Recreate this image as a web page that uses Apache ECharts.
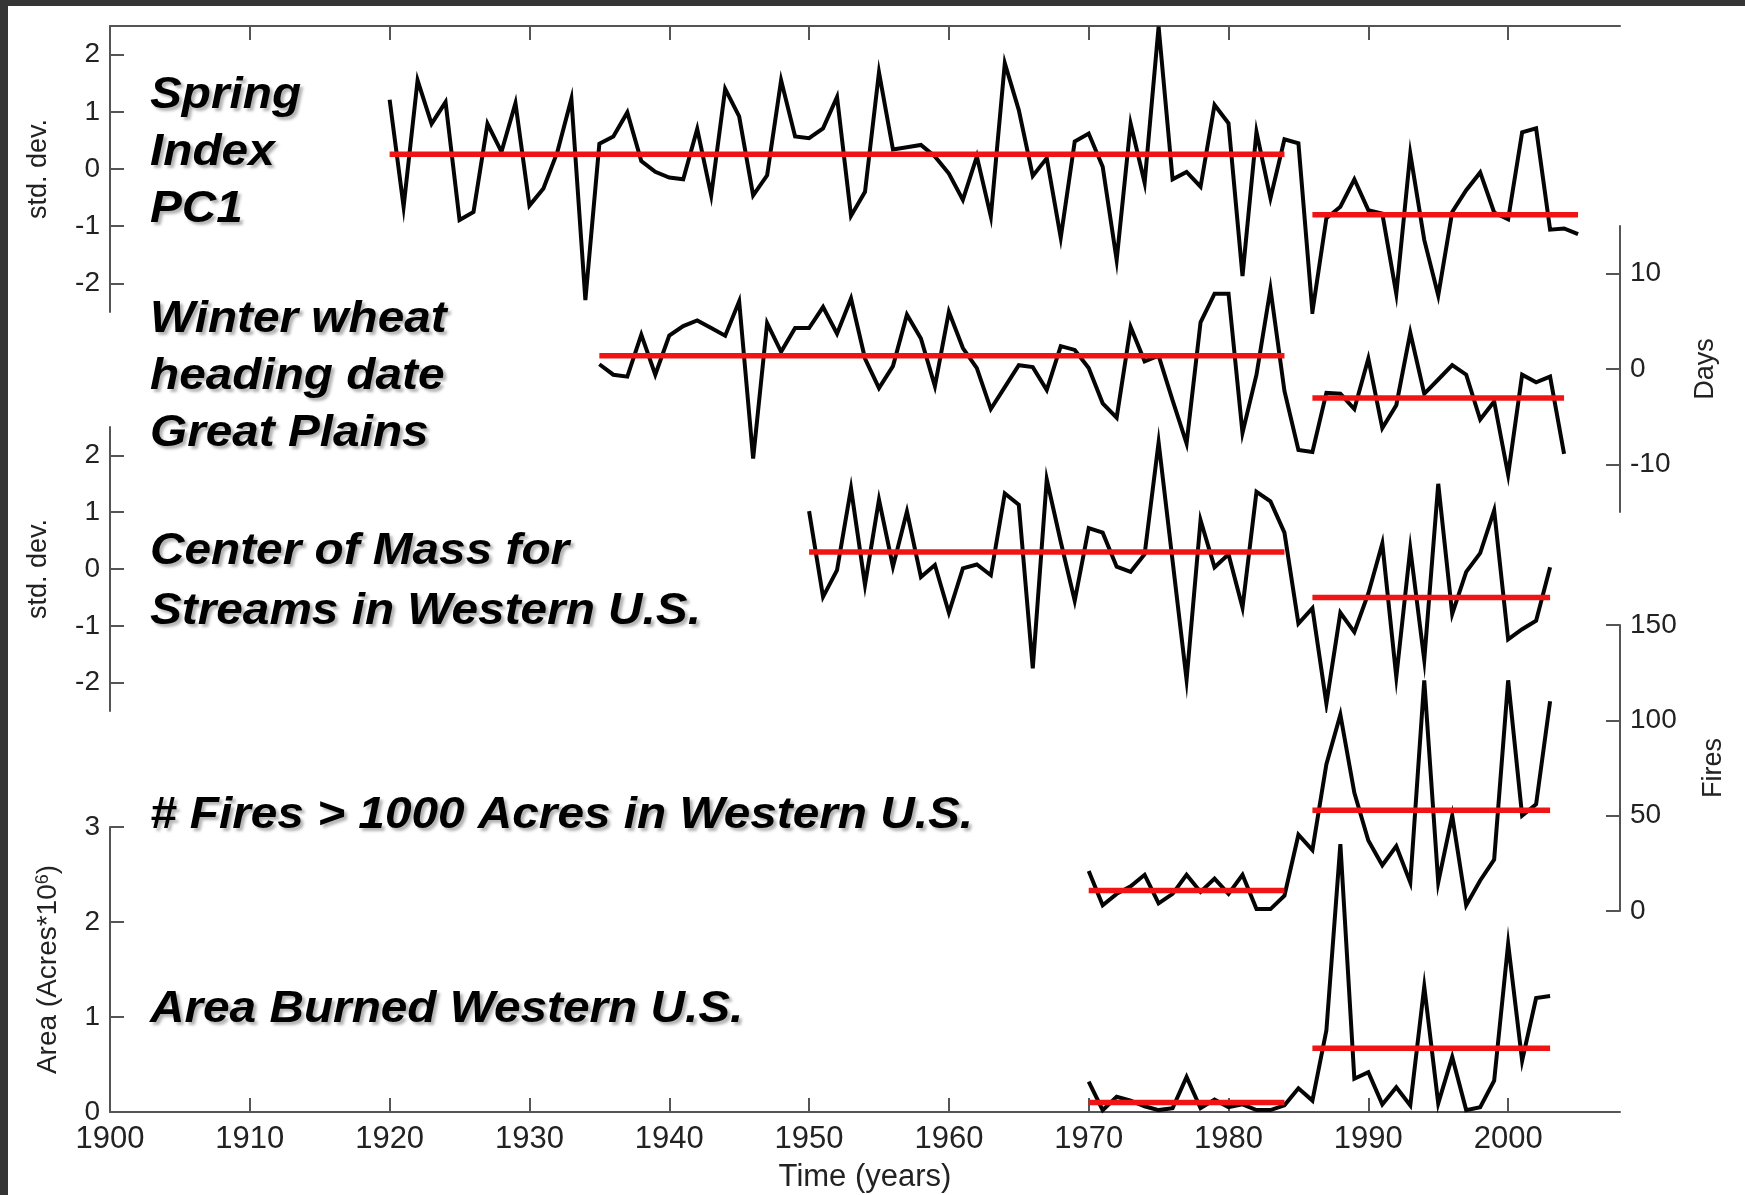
<!DOCTYPE html>
<html>
<head>
<meta charset="utf-8">
<title>Western U.S. spring timing, streamflow and fire records</title>
<script src="https://cdn.jsdelivr.net/npm/echarts@6/dist/echarts.min.js"></script>
<style>
  html, body { margin: 0; padding: 0; background: #ffffff; }
  #chart { width: 1745px; height: 1195px; }
</style>
</head>
<body>
<div id="chart"></div>
<script>
// ---- Data -------------------------------------------------------------

// Spring Index PC1 (std. dev.), yearly from 1920
const springStart = 1920;
const springValues = [
  1.21, -0.66, 1.55, 0.79, 1.17, -0.89, -0.75, 0.79, 0.30, 1.15,
  -0.64, -0.34, 0.30, 1.23, -2.29, 0.44, 0.57, 0.99, 0.14, -0.05,
  -0.15, -0.18, 0.70, -0.46, 1.40, 0.92, -0.46, -0.11, 1.55, 0.57,
  0.54, 0.71, 1.26, -0.82, -0.40, 1.69, 0.34, 0.38, 0.42, 0.22,
  -0.08, -0.54, 0.22, -0.83, 1.85, 1.03, -0.12, 0.19, -1.20, 0.48,
  0.62, 0.04, -1.59, 0.79, -0.24, 2.49, -0.18, -0.05, -0.31, 1.12,
  0.80, -1.87, 0.65, -0.51, 0.52, 0.45, -2.50, -0.86, -0.66, -0.18,
  -0.72, -0.78, -2.18, 0.27, -1.24, -2.21, -0.75, -0.37, -0.06, -0.76,
  -0.88, 0.64, 0.71, -1.06, -1.04, -1.14
];
// period means: [first year, last year, mean]
const springMeans = [[1920, 1984, 0.26], [1986, 2005, -0.80]];

// Winter wheat heading date, Great Plains (days), yearly from 1935
const wheatStart = 1935;
const wheatValues = [
  0.5, -0.6, -0.8, 3.6, -0.6, 3.5, 4.5, 5.1, 4.3, 3.5,
  7.1, -9.4, 4.8, 1.8, 4.3, 4.3, 6.5, 3.7, 7.4, 1.1,
  -2.0, 0.3, 5.7, 3.2, -1.8, 6.0, 2.2, 0.1, -4.2, -1.9,
  0.4, 0.2, -2.2, 2.4, 2.0, 0.1, -3.6, -5.1, 4.4, 0.8,
  1.4, -3.3, -7.8, 4.9, 7.9, 7.9, -6.7, -0.6, 8.4, -2.3,
  -8.5, -8.7, -2.5, -2.6, -4.2, 1.1, -6.2, -3.8, 3.8, -2.6,
  -1.1, 0.4, -0.6, -5.3, -3.4, -11.1, -0.6, -1.4, -0.8, -8.9
];
const wheatMeans = [[1935, 1984, 1.4], [1986, 2004, -3.05]];

// Center of mass of streamflow, western U.S. (std. dev.), yearly from 1950
const streamStart = 1950;
const streamValues = [
  1.02, -0.49, -0.02, 1.42, -0.28, 1.22, 0.04, 1.01, -0.14, 0.07,
  -0.77, 0.01, 0.08, -0.11, 1.33, 1.13, -1.75, 1.58, 0.48, -0.56,
  0.72, 0.64, 0.04, -0.05, 0.26, 2.23, 0.14, -1.95, 0.86, 0.03,
  0.26, -0.68, 1.36, 1.19, 0.64, -0.96, -0.69, -2.37, -0.77, -1.11,
  -0.43, 0.45, -1.90, 0.36, -1.60, 1.50, -0.79, -0.05, 0.28, 1.03,
  -1.24, -1.06, -0.91, 0.03
];
const streamMeans = [[1950, 1984, 0.30], [1986, 2003, -0.50]];

// Number of fires > 1000 acres, western U.S., yearly from 1970
const firesStart = 1970;
const firesValues = [
  21, 3, 9, 13, 19, 4, 9, 19, 10, 17,
  9, 19, 1, 1, 8, 40, 32, 77, 103, 62,
  37, 24, 34, 15, 121, 15, 50, 3, 16, 27,
  121, 50, 56, 110
];
const firesMeans = [[1970, 1984, 10.8], [1986, 2003, 52.9]];

// Area burned, western U.S. (acres x 10^6), yearly from 1970
const areaStart = 1970;
const areaValues = [
  0.32, 0.02, 0.16, 0.12, 0.06, 0.02, 0.04, 0.37, 0.04, 0.13,
  0.05, 0.08, 0.02, 0.02, 0.07, 0.25, 0.12, 0.86, 2.82, 0.35,
  0.42, 0.08, 0.26, 0.07, 1.32, 0.09, 0.58, 0.02, 0.05, 0.33,
  1.77, 0.54, 1.20, 1.22
];
const areaMeans = [[1970, 1984, 0.10], [1986, 2003, 0.67]];

// Axis ticks and labels
const yearLabels = [1900, 1910, 1920, 1930, 1940, 1950, 1960, 1970, 1980, 1990, 2000];
const yearTicks = [1910, 1920, 1930, 1940, 1950, 1960, 1970, 1980, 1990, 2000];
const stdTicks = [-2, -1, 0, 1, 2];
const dayTicks = [-10, 0, 10];
const fireTicks = [0, 50, 100, 150];
const areaTicks = [0, 1, 2, 3];

// Panel titles
const springTitle = ['Spring', 'Index', 'PC1'];
const wheatTitle = ['Winter wheat', 'heading date', 'Great Plains'];
const streamTitle = ['Center of Mass for', 'Streams in Western U.S.'];
const firesTitle = ['# Fires > 1000 Acres in Western U.S.'];
const areaTitle = ['Area Burned Western U.S.'];

// ---- Chart ------------------------------------------------------------

const FONT = '"Liberation Sans", Arial, Helvetica, sans-serif';
const AXIS_COLOR = '#555555';
const LABEL_COLOR = '#222222';

const toPairs = (start, values) => values.map((v, i) => [start + i, v]);

const axisLine = { show: true, onZero: false, lineStyle: { color: AXIS_COLOR, width: 2 } };
const tickStyle = (values) => ({
  show: true, inside: true, length: 14, customValues: values,
  lineStyle: { color: AXIS_COLOR, width: 2 }
});
const labelStyle = (values, size, margin) => ({
  show: true, customValues: values, fontSize: size, color: LABEL_COLOR,
  fontFamily: FONT, margin: margin,
  formatter: (v) => String(v)
});
const nameStyle = { fontSize: 27, color: LABEL_COLOR, fontFamily: FONT };

const LEFT = 110, WIDTH = 1510;
const grids = [
  { left: LEFT, width: WIDTH, top: 26, height: 286 },   // spring index
  { left: LEFT, width: WIDTH, top: 226, height: 286 },  // wheat
  { left: LEFT, width: WIDTH, top: 427, height: 284 },  // streams
  { left: LEFT, width: WIDTH, top: 625, height: 286 },  // fires
  { left: LEFT, width: WIDTH, top: 827, height: 285 }   // area
];

const hiddenX = (i) => ({
  type: 'value', gridIndex: i, min: 1900, max: 2008, show: false,
  splitLine: { show: false }
});

const xAxes = [
  {
    type: 'value', gridIndex: 0, min: 1900, max: 2008, position: 'top',
    axisLine: axisLine, axisTick: tickStyle(yearTicks),
    axisLabel: { show: false }, splitLine: { show: false }
  },
  hiddenX(1), hiddenX(2), hiddenX(3),
  {
    type: 'value', gridIndex: 4, min: 1900, max: 2008, position: 'bottom',
    axisLine: axisLine, axisTick: tickStyle(yearTicks),
    axisLabel: labelStyle(yearLabels, 31, 12),
    splitLine: { show: false },
    name: 'Time (years)', nameLocation: 'middle', nameGap: 50,
    nameTextStyle: { fontSize: 31, color: LABEL_COLOR, fontFamily: FONT }
  }
];

const yAxisDef = (i, pos, min, max, ticks, name, gap, extraName) => ({
  type: 'value', gridIndex: i, position: pos, min: min, max: max,
  axisLine: axisLine, axisTick: tickStyle(ticks),
  axisLabel: labelStyle(ticks, 28, 10),
  splitLine: { show: false },
  name: name, nameLocation: 'middle', nameRotate: 90, nameGap: gap,
  nameTextStyle: Object.assign({}, nameStyle, extraName || {})
});

const yAxes = [
  yAxisDef(0, 'left', -2.5, 2.5, stdTicks, 'std. dev.', 58),
  yAxisDef(1, 'right', -15, 15, dayTicks, 'Days', 72),
  yAxisDef(2, 'left', -2.5, 2.5, stdTicks, 'std. dev.', 58),
  yAxisDef(3, 'right', 0, 150, fireTicks, 'Fires', 80),
  yAxisDef(4, 'left', 0, 3, areaTicks, 'Area (Acres*10{sup|6})', 48, {
    fontSize: 28,
    rich: { sup: { fontSize: 18, verticalAlign: 'top', fontFamily: FONT, color: LABEL_COLOR } }
  })
];

const records = [
  [springStart, springValues, springMeans],
  [wheatStart, wheatValues, wheatMeans],
  [streamStart, streamValues, streamMeans],
  [firesStart, firesValues, firesMeans],
  [areaStart, areaValues, areaMeans]
];

const series = [];
records.forEach(([start, values, means], i) => {
  series.push({
    type: 'line', xAxisIndex: i, yAxisIndex: i,
    data: toPairs(start, values),
    showSymbol: false, symbol: 'none', silent: true, z: 2,
    lineStyle: { color: '#050505', width: 4, join: 'miter', miterLimit: 10 }
  });
  means.forEach(([a, b, m]) => {
    series.push({
      type: 'line', xAxisIndex: i, yAxisIndex: i,
      data: [[a, m], [b, m]],
      showSymbol: false, symbol: 'none', silent: true, z: 3,
      lineStyle: { color: '#f01414', width: 5.5, cap: 'butt' }
    });
  });
});

// Bold italic panel titles with a soft drop shadow
const titleBlock = (lines, top, lineHeight) => ({
  type: 'text', left: 150, top: top, scaleX: 1.085, z: 10, silent: true,
  style: {
    text: lines.join('\n'),
    font: 'italic bold 44px ' + FONT,
    fill: '#000000',
    lineHeight: lineHeight,
    textShadowColor: 'rgba(0,0,0,0.3)',
    textShadowBlur: 3,
    textShadowOffsetX: 3,
    textShadowOffsetY: 3
  }
});

const chart = echarts.init(document.getElementById('chart'), null, { renderer: 'canvas' });
chart.setOption({
  animation: false,
  backgroundColor: '#ffffff',
  grid: grids,
  xAxis: xAxes,
  yAxis: yAxes,
  series: series,
  graphic: [
    { type: 'rect', left: 0, top: 0, z: 20, shape: { width: 1745, height: 6 }, style: { fill: '#353535' } },
    { type: 'rect', left: 0, top: 0, z: 20, shape: { width: 8, height: 1195 }, style: { fill: '#353535' } },
    titleBlock(springTitle, 67, 57),
    titleBlock(wheatTitle, 291, 57),
    titleBlock(streamTitle, 522, 60),
    titleBlock(firesTitle, 787, 57),
    titleBlock(areaTitle, 981, 57)
  ]
});
</script>
</body>
</html>
